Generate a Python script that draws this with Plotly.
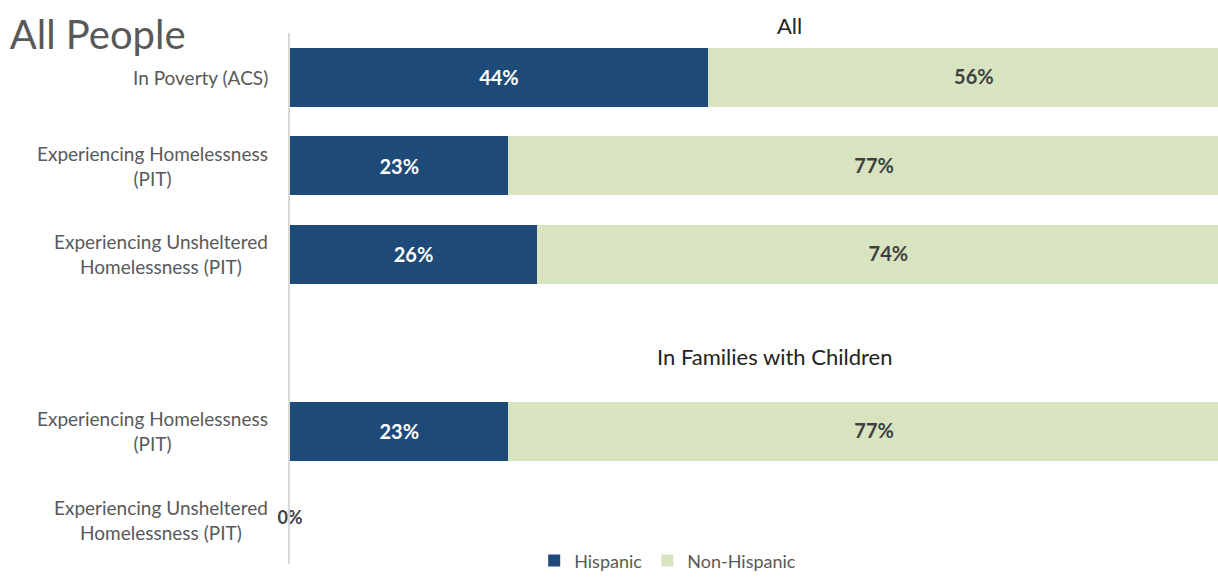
import plotly.graph_objects as go

categories = ["In Poverty (ACS)", "Experiencing Homelessness<br>(PIT)",
              "Experiencing Unsheltered<br>Homelessness (PIT)", "",
              "Experiencing Homelessness<br>(PIT)",
              "Experiencing Unsheltered<br>Homelessness (PIT)"]
slots = [0, 1, 2, 3, 4, 5]
hispanic = [0.44, 0.23, 0.26, None, 0.23, 0.0]
non_hispanic = [0.56, 0.77, 0.74, None, 0.77, None]

NAVY = "#1d4a78"
GREEN = "#d8e4c0"
GRAY = "#595959"
FONT = "Lato, Open Sans, sans-serif"

def lab(v):
    return "" if v is None or v == 0 else f"{round(v*100)}%"

fig = go.Figure()
fig.add_trace(go.Bar(
    name="Hispanic", y=slots, x=hispanic, orientation="h",
    marker=dict(color=NAVY, line=dict(width=0)),
    text=[lab(v) for v in hispanic], textposition="inside",
    insidetextanchor="middle",
    textfont=dict(color="white", size=20, family=FONT, weight="bold"),
))
fig.add_trace(go.Bar(
    name="Non-Hispanic", y=slots, x=non_hispanic, orientation="h",
    marker=dict(color=GREEN, line=dict(width=0)),
    textposition="none",
))
# labels for the light segments (centred on each segment)
mx, my, mt = [], [], []
for s, h, n in zip(slots, hispanic, non_hispanic):
    if n is not None:
        mx.append((h or 0) + n / 2)
        my.append(s + 0.02)
        mt.append(lab(n))
fig.add_trace(go.Scatter(
    x=mx, y=my, mode="text", text=mt, textposition="middle center",
    showlegend=False, cliponaxis=False, hoverinfo="skip",
    textfont=dict(color="#404040", size=20, family=FONT, weight="bold"),
))
# zero-value labels
zy = [s for s, v in zip(slots, hispanic) if v == 0]
zx = [v for v in hispanic if v == 0]
fig.add_trace(go.Scatter(
    x=zx, y=zy, mode="text", text=[f"{round(v*100)}%" for v in zx],
    textposition="middle center", showlegend=False, cliponaxis=False,
    hoverinfo="skip",
    textfont=dict(color="#404040", size=18, family=FONT, weight="bold"),
))

annotations = []
for s, c in zip(slots, categories):
    if c:
        annotations.append(dict(
            x=0, xref="paper", xshift=-20, xanchor="right", y=s, yref="y",
            yanchor="middle", text=c, showarrow=False, align="center",
            font=dict(size=19, color=GRAY, family=FONT)))
annotations.append(dict(x=0.538, xref="paper", y=1.015, yref="paper",
                        text="All", showarrow=False, xanchor="center",
                        yanchor="middle",
                        font=dict(size=22, color="#222", family=FONT)))
annotations.append(dict(x=0.5226, xref="paper", y=3.15, yref="y",
                        text="In Families with Children", showarrow=False,
                        xanchor="center", yanchor="middle",
                        font=dict(size=22, color="#222", family=FONT)))

fig.update_layout(
    barmode="stack", bargap=0.33,
    width=1218, height=578,
    margin=dict(l=290, r=0, t=33, b=14, autoexpand=False),
    paper_bgcolor="white", plot_bgcolor="white",
    title=dict(text="All People", x=0.008, xanchor="left", xref="container",
               y=1 - 35 / 578, yanchor="middle",
               font=dict(size=40, color=GRAY, family=FONT)),
    xaxis=dict(range=[0, 0.977], showgrid=False, showticklabels=False,
               zeroline=False, showline=False, fixedrange=True),
    yaxis=dict(range=[5.5, -0.5], showgrid=False, showticklabels=False,
               zeroline=False, showline=True, linecolor="#d9d9d9",
               linewidth=2, ticks=""),
    legend=dict(orientation="h", x=0.407, xanchor="center", y=0.006,
                yanchor="middle", traceorder="normal",
                font=dict(size=18, color=GRAY, family=FONT),
                itemwidth=30, bgcolor="rgba(0,0,0,0)"),
    annotations=annotations,
    showlegend=True,
)

fig.write_html("out.html")
